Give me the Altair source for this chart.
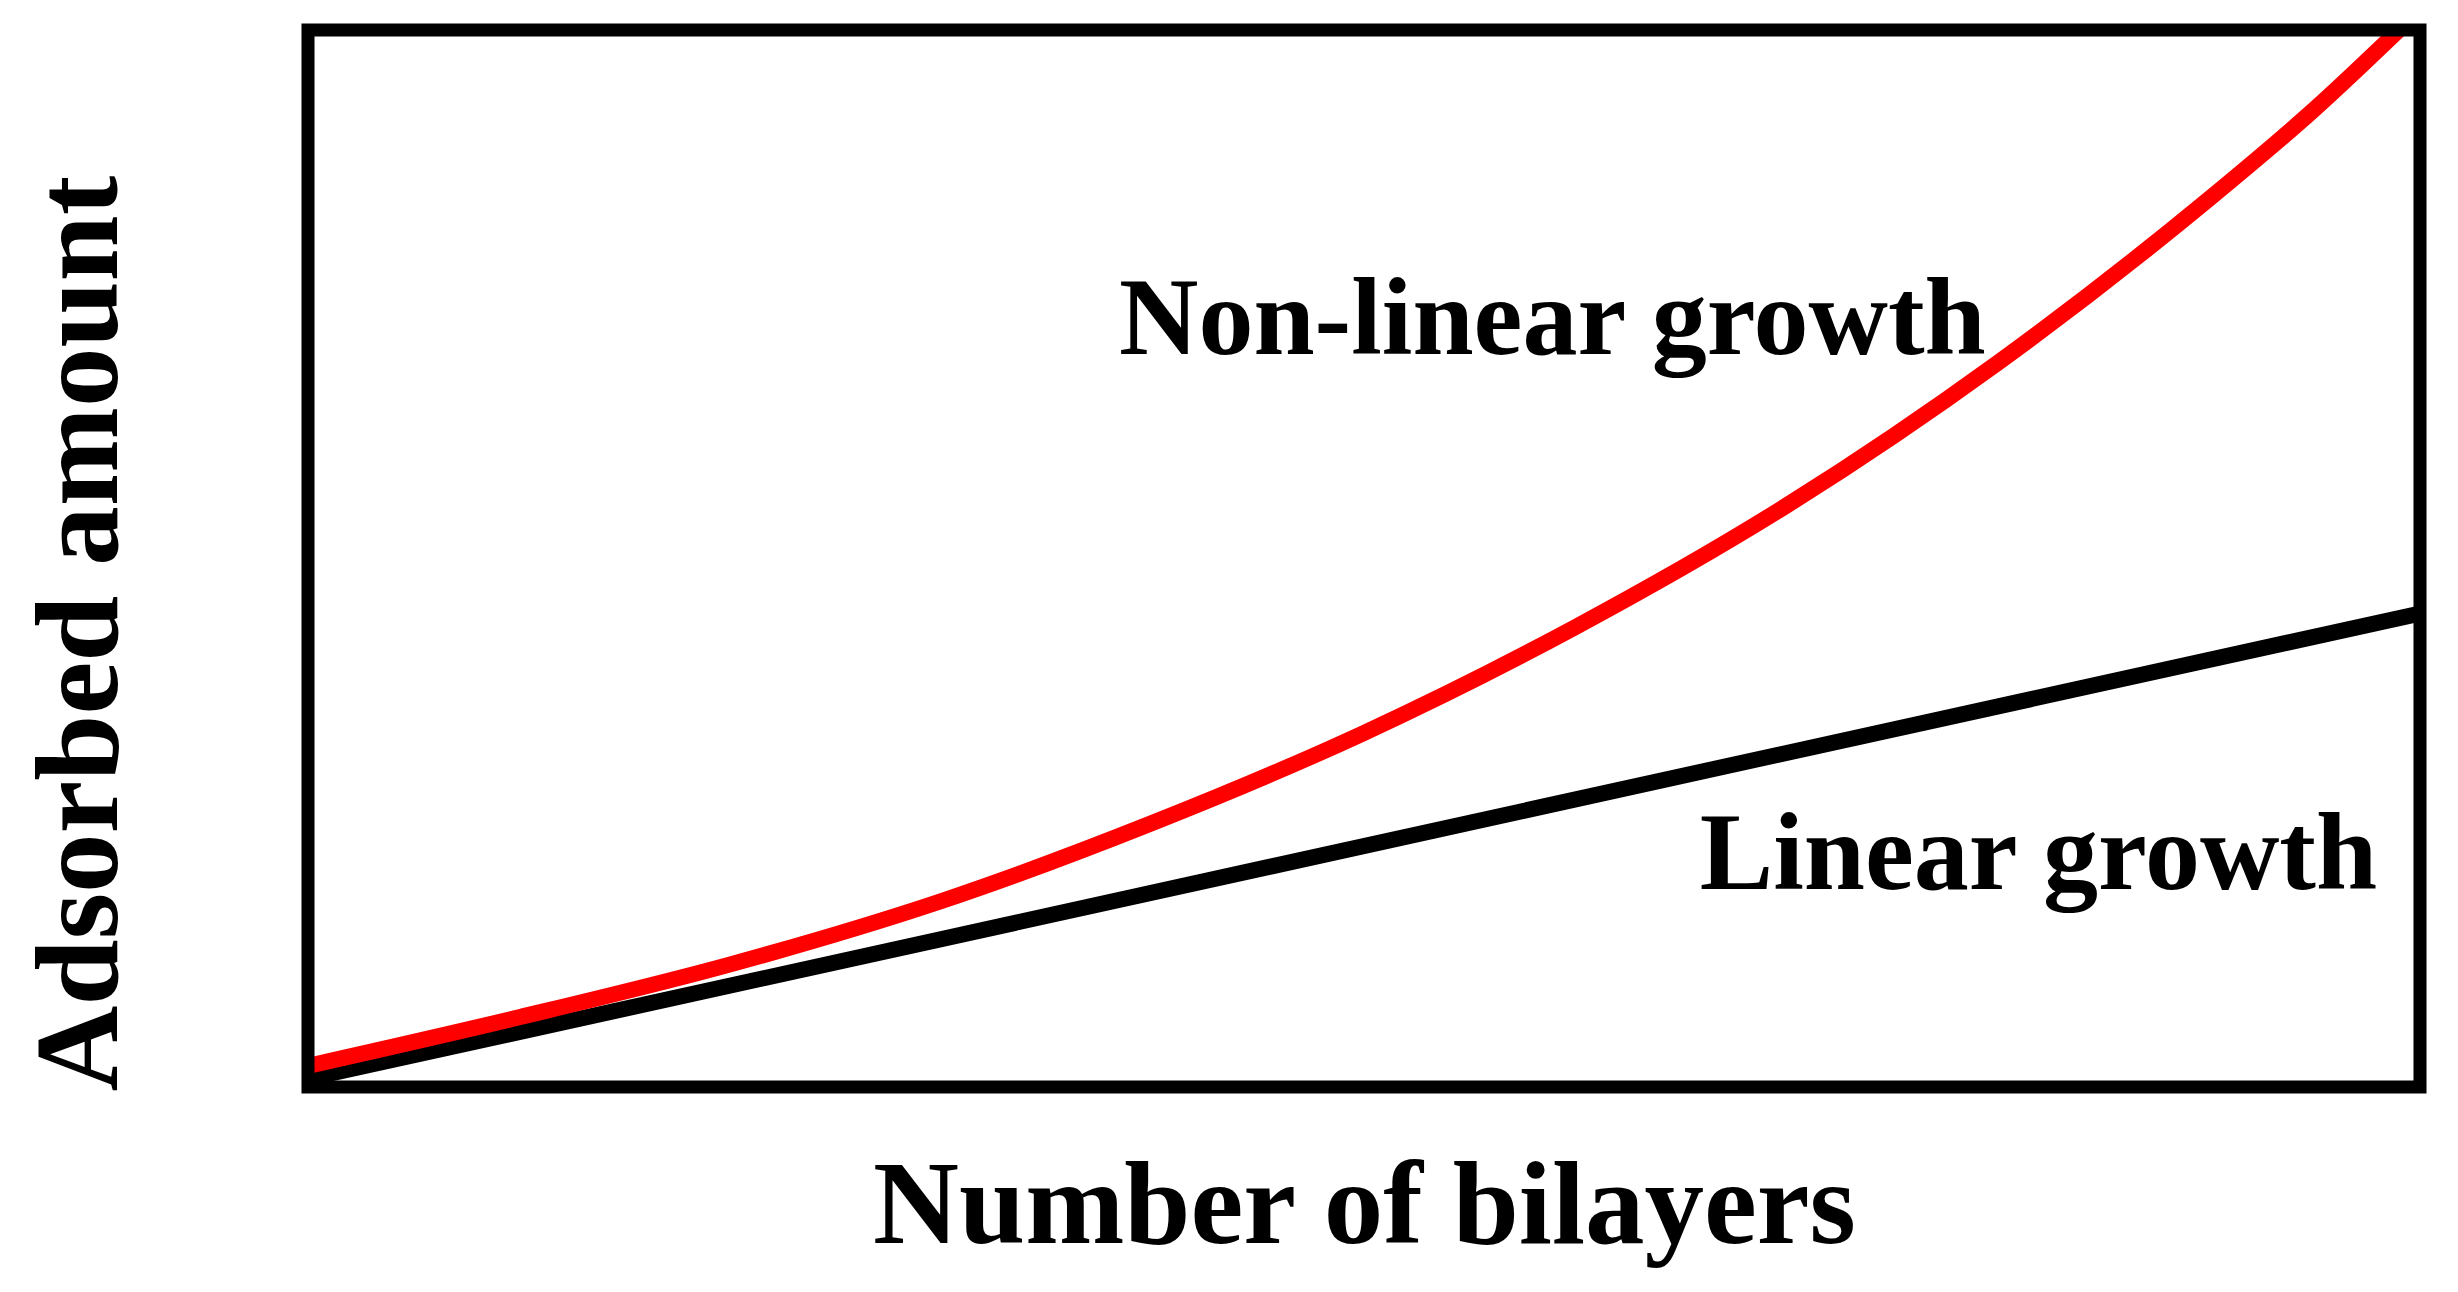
import altair as alt
import pandas as pd

# Linear growth (black straight line)
linear_x = [0, 10]
linear_y = [0.08, 4.48]

# Non-linear growth (red curve)
nonlinear_x = [0, 1, 2, 3, 4, 5, 6, 7, 8, 9, 9.5, 9.9]
nonlinear_y = [0.20, 0.66, 1.16, 1.76, 2.50, 3.35, 4.35, 5.50, 6.85, 8.40, 9.25, 10.0]

# Annotations
label_text = ["Non-linear growth", "Linear growth"]
label_x = [3.84, 6.59]
label_y = [6.93, 1.87]

FONT = "Liberation Serif"

lin_df = pd.DataFrame({"x": linear_x, "y": linear_y})
nl_df = pd.DataFrame({"x": nonlinear_x, "y": nonlinear_y})
lab_df = pd.DataFrame({"x": label_x, "y": label_y, "t": label_text})
frame_df = pd.DataFrame({"x": [0], "x2": [10], "y": [0], "y2": [10]})

xscale = alt.Scale(domain=[0, 10], nice=False, zero=False)
yscale = alt.Scale(domain=[0, 10], nice=False, zero=False)

xaxis = alt.Axis(
    title="Number of bilayers", labels=False, ticks=False, domain=False, grid=False,
    titleFont=FONT, titleFontSize=119, titleFontWeight="bold", titleColor="black",
    titleX=1056, titleY=155, titleBaseline="alphabetic", titleAlign="center",
)
yaxis = alt.Axis(
    title="Adsorbed amount", labels=False, ticks=False, domain=False, grid=False,
    titleFont=FONT, titleFontSize=119, titleFontWeight="bold", titleColor="black",
    titleX=-192, titleY=603, titleBaseline="alphabetic", titleAlign="center", titleAngle=270,
)

black = alt.Chart(lin_df).mark_line(color="black", strokeWidth=16, strokeCap="butt", clip=True).encode(
    x=alt.X("x:Q", scale=xscale, axis=xaxis),
    y=alt.Y("y:Q", scale=yscale, axis=yaxis),
)

red = alt.Chart(nl_df).mark_line(color="#FF0000", strokeWidth=16, strokeCap="butt", interpolate="monotone", clip=True).encode(
    x=alt.X("x:Q"),
    y=alt.Y("y:Q"),
)

labels = alt.Chart(lab_df).mark_text(
    align="left", baseline="alphabetic", font=FONT, fontSize=110, fontWeight="bold", color="black"
).encode(x="x:Q", y="y:Q", text="t:N")

frame = alt.Chart(frame_df).mark_rect(fillOpacity=0, stroke="black", strokeWidth=13).encode(
    x="x:Q", x2="x2:Q", y="y:Q", y2="y2:Q"
)

chart = alt.layer(black, red, labels, frame).properties(
    width=2112, height=1057,
    autosize=alt.AutoSizeParams(type="none"),
    padding={"left": 300, "top": 22, "right": 30, "bottom": 190},
    background="white",
).configure_view(strokeWidth=0)

chart.save("out.html", embed_options={"renderer": "svg", "actions": False})
